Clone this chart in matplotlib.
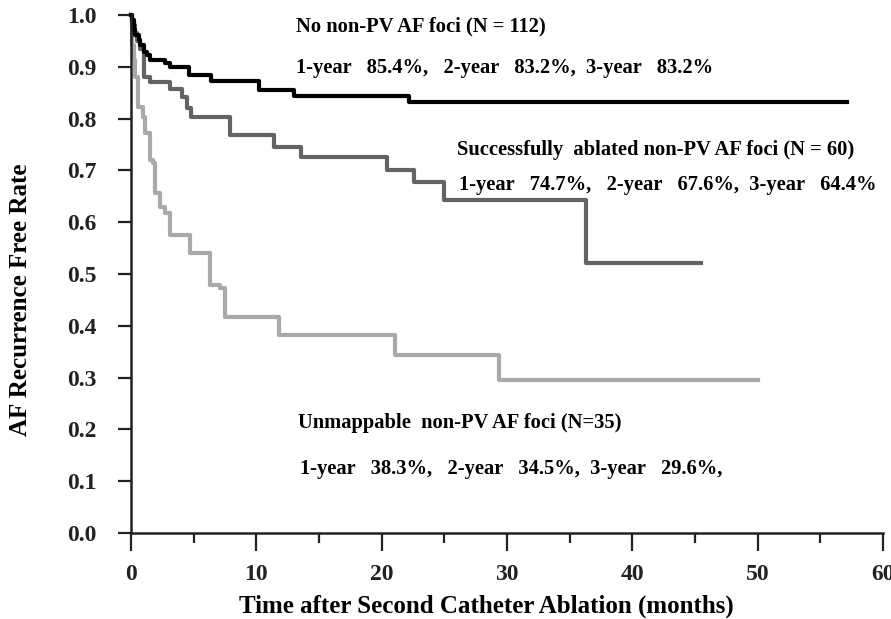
import matplotlib
matplotlib.use('Agg')
import matplotlib.pyplot as plt
from matplotlib.ticker import MultipleLocator, FormatStrFormatter

plt.rcParams['font.family'] = 'Liberation Serif'
plt.rcParams['font.weight'] = 'bold'

# Kaplan-Meier step data (months, free rate)
no_foci_t = [0, 0.05, 0.2, 0.3, 0.6, 0.7, 1.0, 1.25, 1.5, 2.7, 3.1, 4.6, 6.4, 10.2, 13.0, 22.2, 57.1]
no_foci_s = [1.0, 0.99, 0.971, 0.961, 0.952, 0.942, 0.929, 0.923, 0.913, 0.907, 0.900, 0.884, 0.873,
             0.855, 0.844, 0.832, 0.832]

ablated_t = [0, 0.1, 0.3, 0.5, 0.7, 1.0, 1.5, 3.1, 4.1, 4.5, 4.8, 7.9, 11.4, 13.6, 20.4, 22.6, 25.0,
             36.3, 45.5]
ablated_s = [1.0, 0.98, 0.965, 0.95, 0.935, 0.88, 0.871, 0.857, 0.842, 0.820, 0.803, 0.768, 0.745,
             0.726, 0.701, 0.678, 0.643, 0.521, 0.521]

unmap_t = [0, 0.1, 0.2, 0.3, 0.56, 0.96, 1.1, 1.5, 1.75, 1.9, 2.3, 2.7, 3.1, 4.7, 6.3, 7.1, 7.5,
           11.8, 21.1, 29.4, 50.0]
unmap_s = [1.0, 0.943, 0.914, 0.880, 0.822, 0.803, 0.772, 0.720, 0.714, 0.656, 0.629, 0.618, 0.575,
           0.541, 0.479, 0.473, 0.417, 0.382, 0.344, 0.295, 0.295]

fig = plt.figure(figsize=(8.91, 6.19), dpi=100)
ax = fig.add_axes([131 / 891, 1 - 533 / 619, (883 - 131) / 891, (533 - 15) / 619])

ax.step(unmap_t, unmap_s, where='post', color='#a9a9a9', lw=3, clip_on=False)
ax.step(ablated_t, ablated_s, where='post', color='#636363', lw=3, clip_on=False)
ax.step(no_foci_t, no_foci_s, where='post', color='#000000', lw=3, clip_on=False)

ax.set_xlim(0, 60)
ax.set_ylim(0, 1.0)
ax.xaxis.set_major_locator(MultipleLocator(10))
ax.xaxis.set_minor_locator(MultipleLocator(5))
ax.yaxis.set_major_locator(MultipleLocator(0.1))
ax.yaxis.set_major_formatter(FormatStrFormatter('%.1f'))

for side in ['top', 'right']:
    ax.spines[side].set_visible(False)
for side in ['left', 'bottom']:
    ax.spines[side].set_linewidth(1.8)
    ax.spines[side].set_color('#222222')

ax.tick_params(axis='y', direction='out', length=9.5, width=1.6, pad=15, labelsize=17, colors='#222222')
ax.tick_params(axis='x', which='major', direction='out', length=13, width=1.6, pad=9, labelsize=17,
               colors='#222222')
ax.tick_params(axis='x', which='minor', direction='out', length=7, width=1.6, colors='#222222')

ax.set_xlabel('Time after Second Catheter Ablation (months)', fontsize=18, fontweight='bold')
ax.xaxis.set_label_coords(0.472, -0.118)
ax.set_ylabel('AF Recurrence Free Rate', fontsize=18, fontweight='bold')
ax.yaxis.set_label_coords(-0.132, 0.45)

# group annotations
ax.text(13.2, 0.977, 'No non-PV AF foci (N = 112)', fontsize=14.8, va='center')
ax.text(13.2, 0.898, '1-year   85.4%,   2-year   83.2%,  3-year   83.2%', fontsize=14.8, va='center')
ax.text(26.0, 0.739, 'Successfully  ablated non-PV AF foci (N = 60)', fontsize=14.8, va='center')
ax.text(26.2, 0.672, '1-year   74.7%,   2-year   67.6%,  3-year   64.4%', fontsize=14.8, va='center')
ax.text(13.3, 0.212, 'Unmappable  non-PV AF foci (N=35)', fontsize=14.8, va='center')
ax.text(13.5, 0.124, '1-year   38.3%,   2-year   34.5%,  3-year   29.6%,', fontsize=14.8, va='center')

fig.savefig('out.png', dpi=100, facecolor='white')
